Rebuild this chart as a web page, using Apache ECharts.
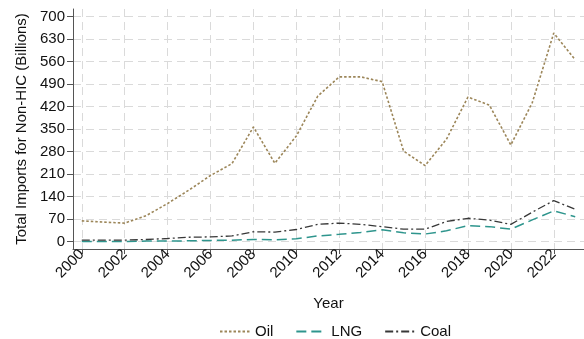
<!DOCTYPE html>
<html>
<head>
<meta charset="utf-8">
<script src="https://cdn.jsdelivr.net/npm/echarts@6/dist/echarts.min.js"></script>
<style>
  html, body { margin: 0; padding: 0; background: #fff; }
  #chart { width: 584px; height: 339px; }
</style>
</head>
<body>
<div id="chart"></div>
<script>
// Import values for non-high-income countries, billions
const years = [2000, 2001, 2002, 2003, 2004, 2005, 2006, 2007, 2008, 2009, 2010, 2011,
               2012, 2013, 2014, 2015, 2016, 2017, 2018, 2019, 2020, 2021, 2022, 2023];
const oil  = [64, 60, 57, 80, 118, 160, 205, 242, 356, 243, 328, 452,
              512, 512, 497, 281, 236, 318, 449, 424, 300, 432, 648, 565];
const lng  = [0, 0, 0, 1, 1, 2, 3, 4, 6, 5, 8, 17,
              22, 28, 36, 27, 23, 33, 49, 46, 38, 67, 95, 77];
const coal = [4, 4, 4, 6, 9, 13, 14, 17, 30, 29, 37, 53,
              57, 53, 46, 38, 38, 62, 72, 66, 53, 91, 127, 100];
const yTicks = [0, 70, 140, 210, 280, 350, 420, 490, 560, 630, 700];
const xTicks = [2000, 2002, 2004, 2006, 2008, 2010, 2012, 2014, 2016, 2018, 2020, 2022];

const pairs = vals => years.map((y, i) => [y, vals[i]]);

const font = 'Liberation Sans, Arial, Helvetica, sans-serif';
const gridLine = { show: true, lineStyle: { color: '#dadada', width: 1, type: [8, 5] } };

const chart = echarts.init(document.getElementById('chart'), null, { renderer: 'canvas' });
chart.setOption({
  animation: false,
  textStyle: { fontFamily: font },
  grid: { left: 73, right: -13, top: 9, bottom: 90, containLabel: false },
  xAxis: {
    type: 'value',
    min: 1999.59,
    max: 2023.41,
    interval: 2,
    name: 'Year',
    nameLocation: 'middle',
    nameGap: 47,
    nameTextStyle: { fontSize: 15, color: '#111', fontFamily: font },
    axisLine: { show: true, onZero: false, lineStyle: { color: '#555', width: 1 } },
    axisTick: { show: true, length: 5, customValues: xTicks, lineStyle: { color: '#555' } },
    axisLabel: {
      customValues: xTicks, rotate: 45, fontSize: 15, color: '#111', margin: 3,
      fontFamily: font, formatter: v => String(v)
    },
    splitLine: gridLine
  },
  yAxis: {
    type: 'value',
    min: -23.6,
    max: 723,
    interval: 70,
    name: 'Total Imports for Non-HIC (Billions)',
    nameLocation: 'middle',
    nameGap: 44,
    nameTextStyle: { fontSize: 15, color: '#111', fontFamily: font },
    axisLine: { show: true, onZero: false, lineStyle: { color: '#555', width: 1 } },
    axisTick: { show: true, length: 6, customValues: yTicks, lineStyle: { color: '#555' } },
    axisLabel: { customValues: yTicks, fontSize: 15, color: '#111', margin: 8, fontFamily: font },
    splitLine: gridLine
  },
  legend: {
    top: 319,
    left: 214,
    itemWidth: 30,
    itemHeight: 10,
    itemGap: 22,
    itemStyle: { opacity: 0 },
    textStyle: { fontSize: 15, color: '#111', fontFamily: font },
    data: ['Oil', 'LNG', 'Coal']
  },
  series: [
    {
      name: 'Oil', type: 'line', data: pairs(oil), symbol: 'none', z: 3,
      lineStyle: { color: '#9c8659', width: 1.6, type: [2.5, 2] },
      itemStyle: { color: '#9c8659' }
    },
    {
      name: 'LNG', type: 'line', data: pairs(lng), symbol: 'none', z: 3,
      lineStyle: { color: '#2e958d', width: 1.5, type: [10, 5] },
      itemStyle: { color: '#2e958d' }
    },
    {
      name: 'Coal', type: 'line', data: pairs(coal), symbol: 'none', z: 3,
      lineStyle: { color: '#383838', width: 1.3, type: [8, 3, 2, 3] },
      itemStyle: { color: '#383838' }
    }
  ]
});
</script>
</body>
</html>
